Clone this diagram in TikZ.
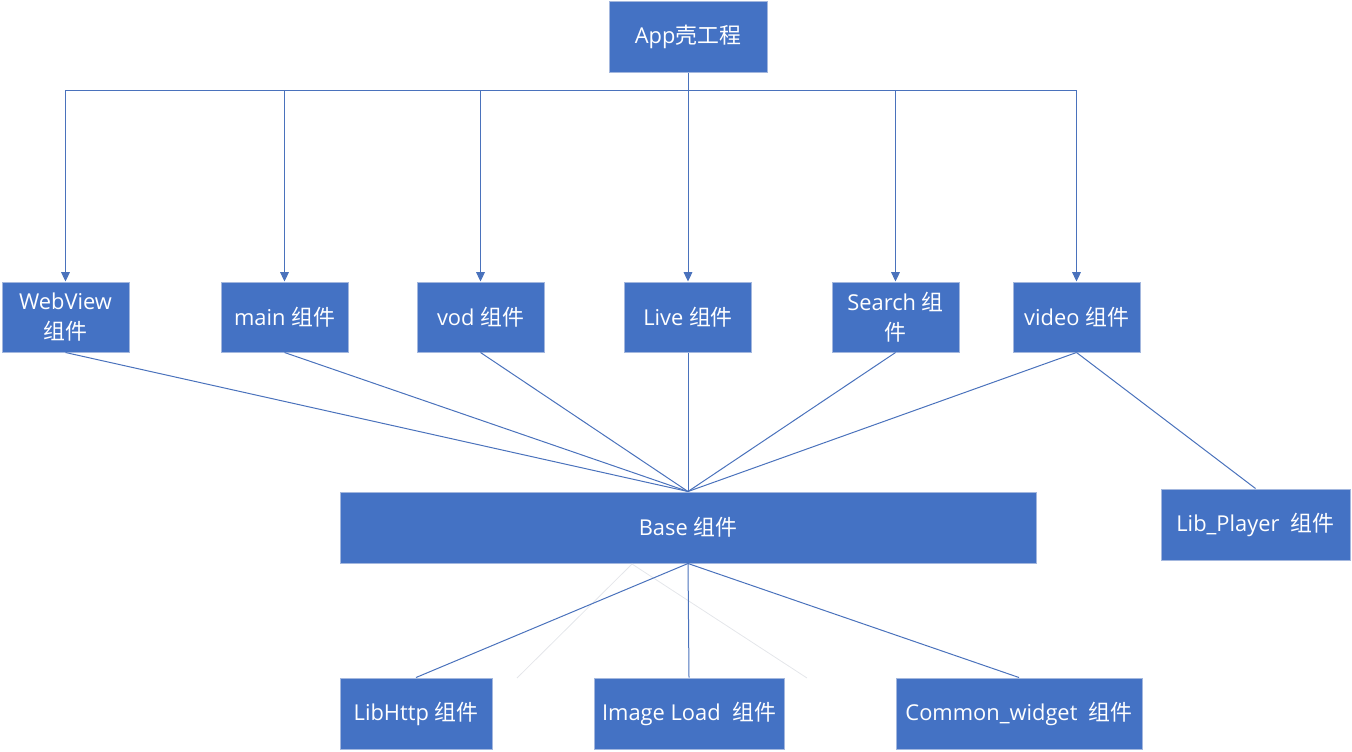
\documentclass[tikz,border=0pt]{standalone}
\usepackage{fontspec}
\setmainfont{Open Sans}
\newfontfamily\cjkf{Noto Sans CJK SC}
\usetikzlibrary{arrows.meta}
\definecolor{boxblue}{HTML}{4472C4}
\definecolor{boxedge}{HTML}{A3B7DE}
\definecolor{linkblue}{HTML}{4A72BC}
\definecolor{faint}{HTML}{E4E6EA}
\newcommand\zj{{\cjkf 组件}}
\begin{document}
\begin{tikzpicture}[x=0.75pt,y=-0.75pt,
  box/.style={draw=boxedge, line width=0.75pt, fill=boxblue, text=white,
    font=\fontsize{16.4}{22.5}\selectfont, inner sep=0pt, align=center},
  mid/.style={box, minimum width=127*0.75pt, minimum height=70*0.75pt},
  low/.style={box, minimum height=71*0.75pt},
  link/.style={draw=linkblue, line width=0.75pt},
  arr/.style={link, -{Triangle[width=6.5pt,length=7pt]}},
  ghost/.style={draw=faint, line width=0.6pt}]
\useasboundingbox (0,0) rectangle (1352,751);
\node[box, minimum width=158*0.75pt, minimum height=71*0.75pt] (app) at (688,36.5) {App{\cjkf 壳工程}};
\node[mid] (web) at (65.5,317) {WebView\\\zj};
\node[mid] (main) at (284.5,317) {main \zj};
\node[mid] (vod) at (480.5,317) {vod \zj};
\node[mid] (live) at (688,317) {Live \zj};
\node[mid] (search) at (895.5,317) {Search {\cjkf 组}\\{\cjkf 件}};
\node[mid] (video) at (1076.5,317) {video \zj};
\node[box, minimum width=696*0.75pt, minimum height=71*0.75pt] (base) at (688,527.5) {Base \zj};
\node[box, minimum width=189*0.75pt, minimum height=71*0.75pt] (player) at (1255.5,524.5) {Lib\_Player\ \ \zj};
\node[low, minimum width=152*0.75pt] (http) at (416,713.5) {LibHttp \zj};
\node[low, minimum width=190*0.75pt] (img) at (689,713.5) {Image Load\ \ \zj};
\node[low, minimum width=246*0.75pt] (common) at (1019,713.5) {Common\_widget\ \ \zj};
\coordinate (bus) at (688,90);
\coordinate (g0) at (632,564);
\coordinate (g1) at (517,678);
\coordinate (g2) at (807,678);
\draw[ghost] (g0) -- (g1);
\draw[ghost] (g0) -- (g2);
\draw[link] (app.south) -- (bus);
\foreach \n in {web,main,vod,live,search,video}
  \draw[arr] (bus) -| (\n.north);
\foreach \n in {web,main,vod,live,search,video}
  \draw[link] (\n.south) -- (base.north);
\draw[link] (video.south) -- (player.north);
\foreach \n in {http,img,common}
  \draw[link] (base.south) -- (\n.north);
\end{tikzpicture}
\end{document}
